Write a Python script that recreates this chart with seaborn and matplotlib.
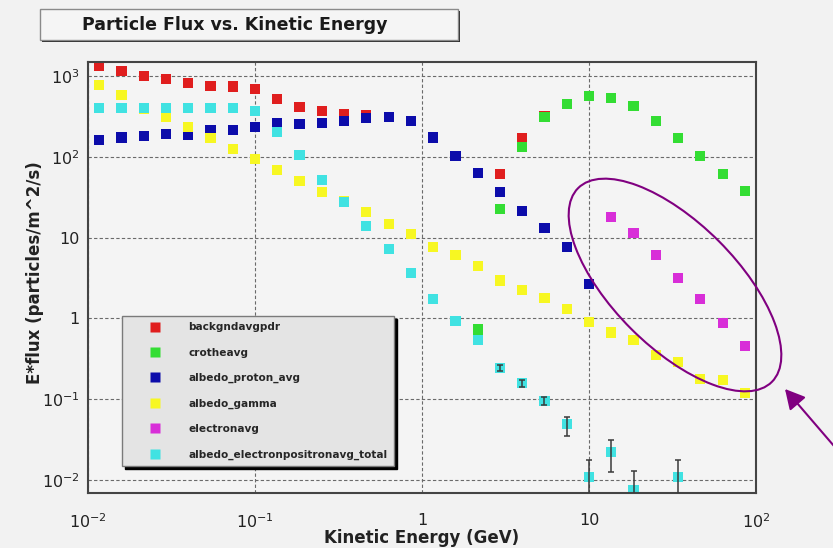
import numpy as np
import pandas as pd
import seaborn as sns
import matplotlib
matplotlib.use("Agg")
import matplotlib.pyplot as plt
from matplotlib.patches import Ellipse, Rectangle, FancyArrowPatch
from matplotlib.transforms import IdentityTransform
from matplotlib.lines import Line2D
from matplotlib.ticker import FixedLocator, FixedFormatter, LogLocator, NullFormatter

nan = np.nan

# ---------------- data ----------------
energy = [0.01166, 0.01585, 0.02154, 0.02929, 0.03981, 0.05412, 0.07356, 0.1,
          0.1359, 0.1848, 0.2512, 0.3415, 0.4642, 0.631, 0.8577, 1.166, 1.585,
          2.154, 2.929, 3.981, 5.412, 7.356, 10.0, 13.59, 18.48, 25.12, 34.15,
          46.42, 63.10, 85.77]

backgnd = [1330, 1150, 1000, 910, 815, 760, 740, 685, 515, 415, 365, 336, 329,
           313, 280, 173, 102, 62.5, 61, 170, 322, 450, 565, 540, 425, 280, 172,
           102, 61, 38]
cosmic = [nan, nan, nan, nan, nan, nan, nan, nan, nan, nan, nan, nan, nan, nan,
          nan, nan, nan, 0.73, 22.4, 131, 308, 450, 565, 530, 425, 280, 172, 102,
          61, 38]
proton = [161, 173, 182, 191, 188, 215, 215, 232, 260, 253, 263, 280, 299, 313,
          280, 173, 102, 62.5, 37, 21.5, 13, 7.6, 2.67, nan, nan, nan, nan, nan,
          nan, nan]
gamma = [774, 582, 392, 313, 236, 170, 125, 93, 69, 50, 37, 28, 20.9, 14.7,
         11.2, 7.7, 6.1, 4.46, 2.95, 2.27, 1.8, 1.31, 0.895, 0.67, 0.54, 0.35,
         0.29, 0.178, 0.173, 0.118]
electron = [nan, nan, nan, nan, nan, nan, nan, nan, nan, nan, nan, nan, nan, nan,
            nan, nan, nan, nan, nan, nan, nan, nan, nan, 17.8, 11.3, 6.1, 3.19,
            1.72, 0.87, 0.46]
epos = [398, 398, 398, 398, 398, 398, 398, 372, 204, 105, 51.6, 27.8, 13.9, 7.2,
        3.68, 1.74, 0.93, 0.54, 0.245, 0.157, 0.095, 0.049, 0.011, 0.0224, 0.0075,
        nan, 0.011, nan, nan, nan]
# error-bar bounds for the albedo e+e- series (nan = no bar)
epos_lo = [nan] * 18 + [0.225, 0.14, 0.085, 0.035, 0.001, 0.0127, 0.001, nan,
                        0.001, nan, nan, nan]
epos_hi = [nan] * 18 + [0.265, 0.175, 0.105, 0.061, 0.0178, 0.0316, 0.0129, nan,
                        0.0178, nan, nan, nan]

series_names = ["backgndavgpdr", "crotheavg", "albedo_proton_avg", "albedo_gamma",
                "electronavg", "albedo_electronpositronavg_total"]
series_values = [backgnd, cosmic, proton, gamma, electron, epos]
colors = ["#e01e1e", "#33dd33", "#0c0caa", "#f7f722", "#d82ed8", "#40e2e2"]

xtick_vals = [0.01, 0.1, 1, 10, 100]
xtick_labels = ["$10^{-2}$", "$10^{-1}$", "1", "10", "$10^{2}$"]
ytick_vals = [0.01, 0.1, 1, 10, 100, 1000]
ytick_labels = ["$10^{-2}$", "$10^{-1}$", "1", "10", "$10^{2}$", "$10^{3}$"]

frames = [pd.DataFrame({"E": energy, "flux": v, "series": n})
          for n, v in zip(series_names, series_values)]
df = pd.concat(frames, ignore_index=True).dropna()

# ---------------- style ----------------
sns.set_style("white")
plt.rcParams["font.family"] = ["DejaVu Sans"]
plt.rcParams["mathtext.fontset"] = "dejavusans"

W, H = 833, 548
fig = plt.figure(figsize=(W / 100, H / 100), dpi=100, facecolor="#f2f2f2")
ax = fig.add_axes([88 / W, (H - 493.3) / H, (756 - 88) / W, (493.3 - 61.7) / H])
ax.set_facecolor("#f4f4f4")

sns.scatterplot(data=df, x="E", y="flux", hue="series", hue_order=series_names,
                palette=colors, marker="s", s=54, linewidth=0, legend=False,
                ax=ax, zorder=2)

ax.set_xscale("log")
ax.set_yscale("log")
ax.set_xlim(0.01, 100)
ax.set_ylim(0.00684, 1503)

# error bars
ep = np.array(epos, dtype=float)
lo = np.array(epos_lo, dtype=float)
hi = np.array(epos_hi, dtype=float)
m = ~np.isnan(lo)
ax.errorbar(np.array(energy)[m], ep[m], yerr=[ep[m] - lo[m], hi[m] - ep[m]],
            fmt="none", ecolor="#3a3a3a", elinewidth=1.1, capsize=2.5,
            capthick=1.1, zorder=3)

# axes decoration
ax.xaxis.set_major_locator(FixedLocator(xtick_vals))
ax.xaxis.set_major_formatter(FixedFormatter(xtick_labels))
ax.yaxis.set_major_locator(FixedLocator(ytick_vals))
ax.yaxis.set_major_formatter(FixedFormatter(ytick_labels))
ax.xaxis.set_minor_locator(LogLocator(base=10, subs=np.arange(2, 10), numticks=20))
ax.yaxis.set_minor_locator(LogLocator(base=10, subs=np.arange(2, 10), numticks=20))
ax.xaxis.set_minor_formatter(NullFormatter())
ax.yaxis.set_minor_formatter(NullFormatter())

ax.tick_params(which="both", direction="in", top=False, right=False,
               color="#333333", labelcolor="#222222")
ax.tick_params(which="major", length=8, width=0.9, labelsize=11.5)
ax.tick_params(which="minor", length=4, width=0.8)
ax.tick_params(axis="x", which="major", pad=14)
ax.tick_params(axis="y", which="major", pad=6)

ax.grid(True, which="major", color="#6a6a6a", linestyle=(0, (3, 2)), linewidth=0.8)
for sp in ax.spines.values():
    sp.set_color("#444444")
    sp.set_linewidth(1.5)

ax.set_xlabel("Kinetic Energy (GeV)", fontsize=12, fontweight="bold", color="#222222")
ax.set_ylabel("E*flux (particles/m^2/s)", fontsize=12, fontweight="bold", color="#222222")
ax.xaxis.label.set_va("center")
ax.yaxis.label.set_va("center")
ax.xaxis.set_label_coords(0.5, (H - 538 - (H - 493.3)) / (493.3 - 61.7))
ax.yaxis.set_label_coords((35 - 88) / (756 - 88), (H - 273 - (H - 493.3)) / (493.3 - 61.7))

# legend
handles = [Line2D([], [], ls="none", marker="s", ms=7, mfc=c, mec="none") for c in colors]
ax.legend(handles, series_names, loc="upper left",
          bbox_to_anchor=(122 / W, 1 - 316 / H), bbox_transform=fig.transFigure,
          frameon=True, fancybox=False, facecolor="#e4e4e4", edgecolor="#7a7a7a",
          framealpha=1, borderpad=0.6, labelspacing=1.45, handlelength=5.1,
          handletextpad=0.6, borderaxespad=0,
          prop={"family": "DejaVu Sans", "weight": "bold", "size": 7.6},
          shadow={"ox": 2.2, "oy": -2.2, "facecolor": "black",
                  "edgecolor": "black", "alpha": 1})

# title box
fig.add_artist(Rectangle((42, H - 42), 418, 31, transform=IdentityTransform(),
                         facecolor="#2a2a2a", edgecolor="none", zorder=1))
fig.add_artist(Rectangle((40, H - 40), 418, 31, transform=IdentityTransform(),
                         facecolor="#f5f5f5", edgecolor="#8a8a8a", linewidth=1, zorder=2))
fig.text(235 / W, 1 - 25 / H, "Particle Flux vs. Kinetic Energy", ha="center",
         va="center", fontsize=12.5, fontweight="bold", color="#1a1a1a", zorder=3)

# annotation: ellipse and arrow
purple = "#800080"
fig.add_artist(Ellipse((675, H - 285), width=274, height=124, angle=-45,
                       transform=IdentityTransform(), fill=False,
                       edgecolor=purple, linewidth=1.5, zorder=5))
fig.add_artist(FancyArrowPatch((840, H - 453), (785, H - 389),
                               arrowstyle="-|>,head_length=0.6,head_width=0.32",
                               mutation_scale=20, color=purple, linewidth=1.5,
                               shrinkA=0, shrinkB=0, transform=IdentityTransform(),
                               zorder=5))

fig.savefig("out.png", dpi=100, facecolor=fig.get_facecolor())
